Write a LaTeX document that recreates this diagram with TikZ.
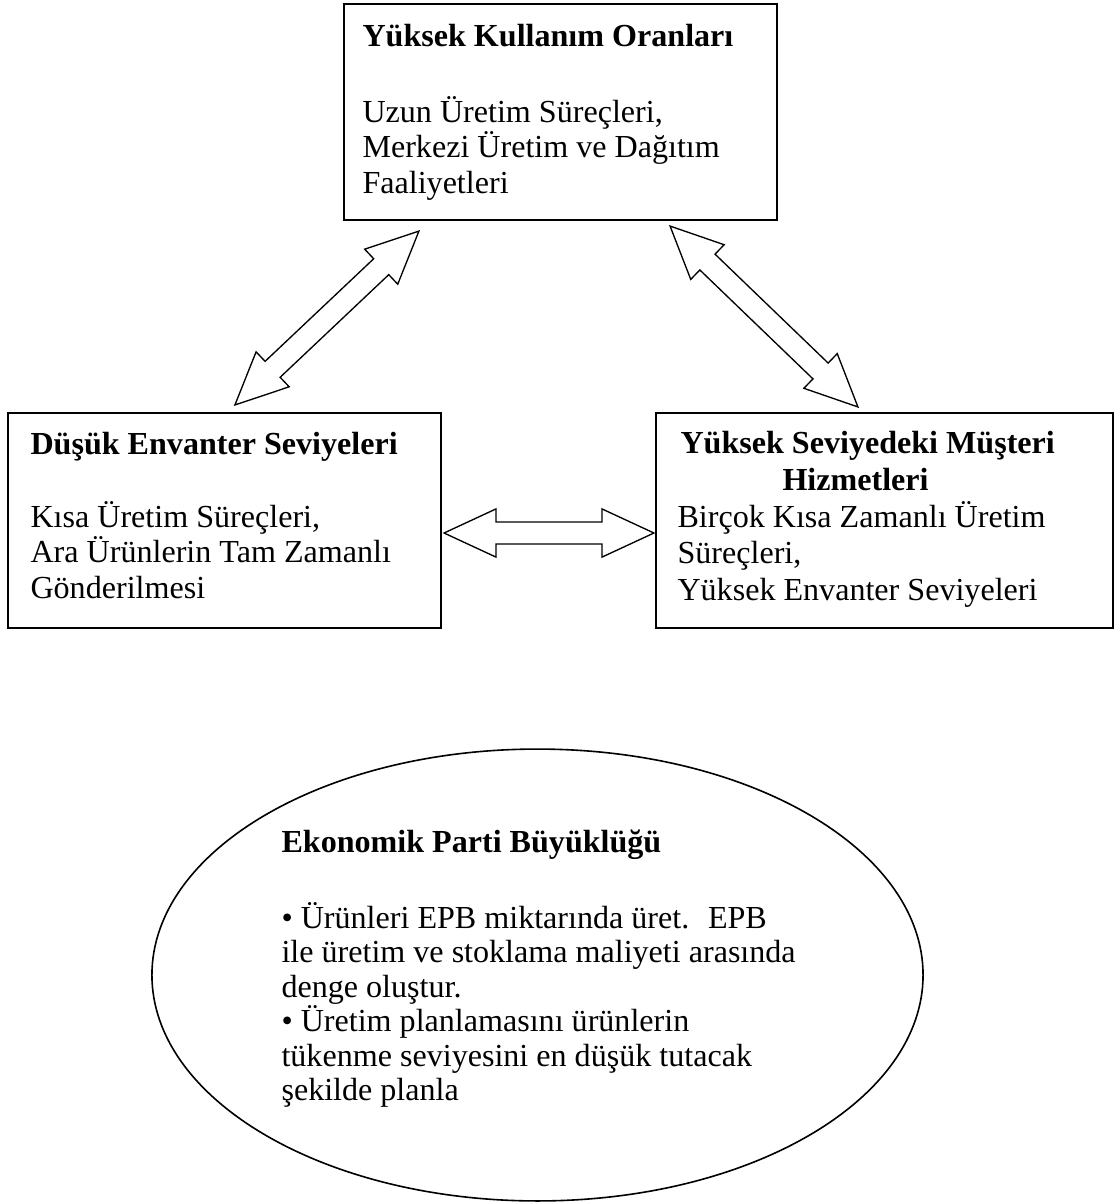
\documentclass[tikz,border=0pt]{standalone}
\usepackage{fontspec}
\setmainfont{Liberation Serif}
\usetikzlibrary{calc,fit,shapes.geometric}

% hollow two-headed arrow between two named points
\newcommand{\dblarrow}[2]{%
	\coordinate (ha) at ($(#1)!19.4pt!(#2)$);
	\coordinate (hb) at ($(#2)!19.4pt!(#1)$);
	\draw[fatarrow] (#1) -- ($(ha)!9pt!90:(#2)$) -- ($(ha)!4.1pt!90:(#2)$)
		-- ($(hb)!4.1pt!-90:(#1)$) -- ($(hb)!9pt!-90:(#1)$) -- (#2)
		-- ($(hb)!9pt!90:(#1)$) -- ($(hb)!4.1pt!90:(#1)$)
		-- ($(ha)!4.1pt!-90:(#2)$) -- ($(ha)!9pt!-90:(#2)$) -- cycle;
}

\begin{document}
\begin{tikzpicture}[x=0.374pt,y=-0.374pt,
	box/.style={draw,line width=0.8pt,inner sep=0pt},
	headtext/.style={anchor=base west,inner sep=0pt,font=\fontsize{12pt}{14pt}\selectfont\bfseries},
	bodytext/.style={anchor=base west,inner sep=0pt,font=\fontsize{12pt}{14pt}\selectfont},
	fatarrow/.style={draw,line width=0.5pt,fill=white,line join=miter}]

\useasboundingbox (0,0) rectangle (1117,1204);

%%%%%%%%%%%%%%%%%%%%%%%%%%%%%%%%%%%%%%

\node[box,fit={(344,4) (777,220)}] (usage) {};
\node[headtext] (usagehead) at (362,46) {Yüksek Kullanım Oranları};
\node[bodytext] (usage1) at (362,122) {Uzun Üretim Süreçleri,};
\node[bodytext] (usage2) at (362,157.5) {Merkezi Üretim ve Dağıtım};
\node[bodytext] (usage3) at (362,193) {Faaliyetleri};

%%%%%%%%%%%%%%%%%%%%%%%%%%%%%%%%%%%%%%

\node[box,fit={(8,413) (441,628)}] (inventory) {};
\node[headtext] (invhead) at (30,454) {Düşük Envanter Seviyeleri};
\node[bodytext] (inv1) at (30,527) {Kısa Üretim Süreçleri,};
\node[bodytext] (inv2) at (30,562.5) {Ara Ürünlerin Tam Zamanlı};
\node[bodytext] (inv3) at (30,598) {Gönderilmesi};

%%%%%%%%%%%%%%%%%%%%%%%%%%%%%%%%%%%%%%

\node[box,fit={(656,413) (1113,628)}] (service) {};
\node[headtext] (servhead) at (680,453) {Yüksek Seviyedeki Müşteri};
\node[headtext] (servhead2) at (782,490) {Hizmetleri};
\node[bodytext] (serv1) at (677,527) {Birçok Kısa Zamanlı Üretim};
\node[bodytext] (serv2) at (677,563) {Süreçleri,};
\node[bodytext] (serv3) at (677,600) {Yüksek Envanter Seviyeleri};

%%%%%%%%%%%%%%%%%%%%%%%%%%%%%%%%%%%%%%

\node[draw,ellipse,line width=0.6pt,inner sep=0pt,minimum width=288.4pt,minimum height=169pt] (epb) at (537.5,975) {};
\node[headtext] (epbhead) at (281,852) {Ekonomik Parti Büyüklüğü};
\node[bodytext] (epb1) at (281,928) {• Ürünleri EPB miktarında üret.~ EPB};
\node[bodytext] (epb2) at (281,962.5) {ile üretim ve stoklama maliyeti arasında};
\node[bodytext] (epb3) at (281,997) {denge oluştur.};
\node[bodytext] (epb4) at (281,1031.5) {• Üretim planlamasını ürünlerin};
\node[bodytext] (epb5) at (281,1066) {tükenme seviyesini en düşük tutacak};
\node[bodytext] (epb6) at (281,1100.5) {şekilde planla};

%%%%%%%%%%%%%%%%%%%%%%%%%%%%%%%%%%%%%%

\coordinate (ul) at ($(usage.south west)+(76,10)$);
\coordinate (il) at ($(inventory.north west)+(228,-7)$);
\coordinate (ur) at ($(usage.south east)+(-108,5)$);
\coordinate (sr) at ($(service.north west)+(203,-5)$);
\coordinate (ie) at ($(inventory.east)+(2,12.5)$);
\coordinate (se) at ($(service.west)+(-1,12.5)$);

\dblarrow{il}{ul}
\dblarrow{ur}{sr}
\dblarrow{ie}{se}

\end{tikzpicture}
\end{document}
